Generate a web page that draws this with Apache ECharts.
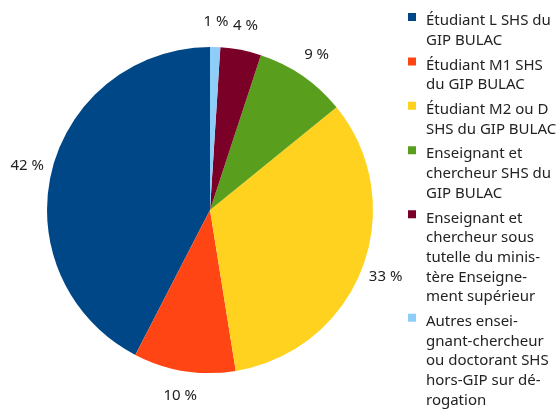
<!DOCTYPE html>
<html>
<head>
<meta charset="utf-8">
<script src="https://cdn.jsdelivr.net/npm/echarts@6/dist/echarts.min.js"></script>
<style>
  html, body { margin: 0; padding: 0; background: #ffffff; }
  #chart { width: 560px; height: 409px; }
</style>
</head>
<body>
<div id="chart"></div>
<script>
// Public categories of the BULAC reading rooms
const categories = [
  'Étudiant L SHS du GIP BULAC',
  'Étudiant M1 SHS du GIP BULAC',
  'Étudiant M2 ou D SHS du GIP BULAC',
  'Enseignant et chercheur SHS du GIP BULAC',
  'Enseignant et chercheur sous tutelle du ministère Enseignement supérieur',
  'Autres enseignant-chercheur ou doctorant SHS hors-GIP sur dérogation'
];

// Legend text, broken over lines
const legendLines = [
  ['Étudiant L SHS du', 'GIP BULAC'],
  ['Étudiant M1 SHS', 'du GIP BULAC'],
  ['Étudiant M2 ou D', 'SHS du GIP BULAC'],
  ['Enseignant et', 'chercheur SHS du', 'GIP BULAC'],
  ['Enseignant et', 'chercheur sous', 'tutelle du minis-', 'tère Enseigne-', 'ment supérieur'],
  ['Autres ensei-', 'gnant-chercheur', 'ou doctorant SHS', 'hors-GIP sur dé-', 'rogation']
];

// Share of each category, in percent
const shares = [42, 10, 33, 9, 4, 1];

const palette = ['#004788', '#ff4513', '#ffd21f', '#5a9e1e', '#7a0027', '#8ecdf7'];

const FONT = '"Noto Sans", "DejaVu Sans", sans-serif';
const TEXT_COLOR = '#222222';
const CENTER = [210, 210];
const RADIUS = 163;

const pieData = categories.map((name, i) => ({
  name: name,
  value: shares[i],
  itemStyle: { color: palette[i] }
}));

// One legend block per category; the swatch is drawn at the top of a tall
// icon box so that it sits beside the first line of a multi-line entry.
const LH = 19.7;      // legend line height
const GAP = 5;        // space between legend entries
const FIRST = 21;     // centre of the first legend line
const SHIFT = 4;      // swatch centre sits a little above the line centre
const SWATCH = 8;
const ICON_W = 13;    // swatch plus the space before the text
const legends = [];
let lineY = FIRST;
categories.forEach((name, i) => {
  const n = legendLines[i].length;
  const h = +(n * LH).toFixed(2);
  const sq = +(LH / 2 - SHIFT - SWATCH / 2).toFixed(2);
  const icon = 'path://M0,' + sq + 'h' + SWATCH + 'v' + SWATCH + 'h-' + SWATCH + 'z' +
    'M0,0L0.01,0M' + ICON_W + ',' + h + 'L' + (ICON_W - 0.01) + ',' + h;
  legends.push({
    orient: 'vertical',
    left: 408,
    top: lineY - LH / 2,
    padding: 0,
    itemWidth: ICON_W,
    itemHeight: h,
    icon: icon,
    selectedMode: false,
    data: [name],
    formatter: () => legendLines[i].join('\n'),
    textStyle: {
      fontFamily: FONT,
      fontSize: 15,
      lineHeight: LH,
      color: TEXT_COLOR
    }
  });
  lineY += n * LH + GAP;
});

const chart = echarts.init(document.getElementById('chart'), null, { renderer: 'canvas' });
chart.setOption({
  animation: false,
  backgroundColor: '#ffffff',
  legend: legends,
  series: [
    {
      type: 'pie',
      center: CENTER,
      radius: RADIUS,
      startAngle: 90,
      clockwise: false,
      data: pieData,
      label: { show: false },
      labelLine: { show: false },
      itemStyle: { borderWidth: 0 },
      emphasis: { disabled: true }
    },
    {
      // invisible ring that carries the percentage labels just outside the pie
      type: 'pie',
      center: CENTER,
      radius: [RADIUS + 10, RADIUS + 34],
      startAngle: 90,
      clockwise: false,
      silent: true,
      data: categories.map((name, i) => ({ name: name, value: shares[i] })),
      itemStyle: { color: 'rgba(0,0,0,0)' },
      label: {
        show: true,
        position: 'inside',
        formatter: '{c} %',
        fontFamily: FONT,
        fontSize: 15,
        color: TEXT_COLOR
      },
      labelLine: { show: false },
      emphasis: { disabled: true }
    }
  ]
});
</script>
</body>
</html>
